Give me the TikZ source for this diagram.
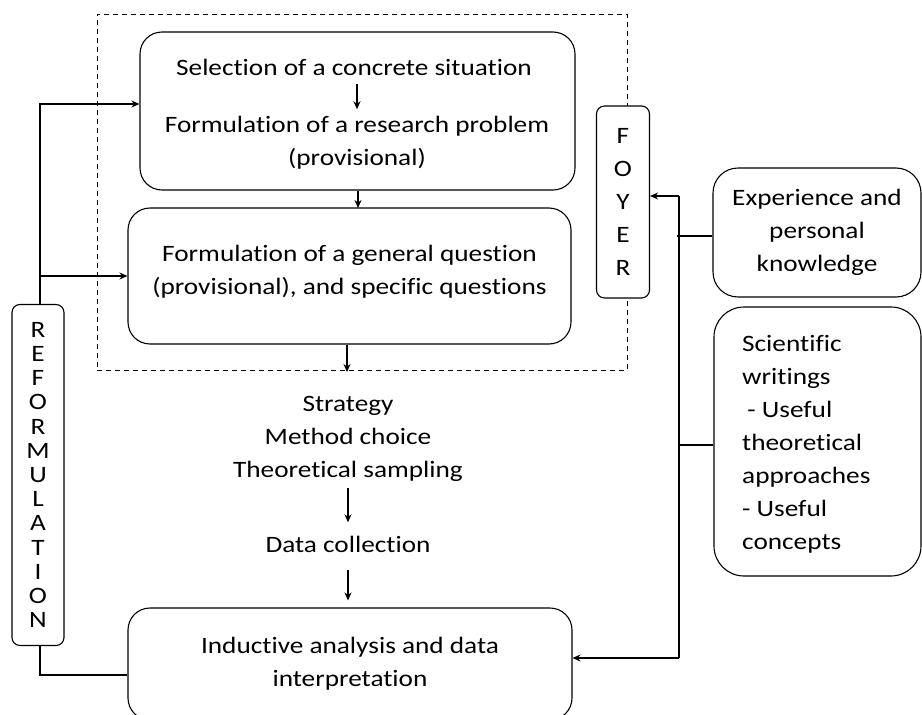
\documentclass[tikz,border=0pt]{standalone}
\usepackage{fontspec}
\setmainfont{Carlito}[FakeStretch=1.16, Ligatures=NoCommon]
\usetikzlibrary{arrows.meta}
\begin{document}
\begin{tikzpicture}[x=1pt,y=-1pt,
  txt/.style={inner sep=0pt, align=center, font=\fontsize{23.5}{33}\selectfont},
  line1/.style={txt, text height=16pt, text depth=5pt},
  rbox/.style={draw, line width=1.1pt, rounded corners=22pt, fill=white, inner sep=0pt},
  tallbox/.style={draw, line width=1.1pt, rounded corners=8pt, fill=white, inner sep=0pt, align=center},
  conn/.style={line width=1.1pt},
  arr/.style={conn, -{Stealth[length=8pt,width=7pt]}},
]
\useasboundingbox (0,0) rectangle (922,715);
\clip (0,0) rectangle (922,715);

% dashed frame
\node[draw, dashed, dash pattern=on 5pt off 4pt, line width=0.9pt, minimum width=530pt, minimum height=356pt, inner sep=0pt] (frame) at (362,192) {};

% top box
\node[rbox, minimum width=435pt, minimum height=158pt] (b1) at (357.5,111) {};
\node[line1] (sel) at (354,70) {Selection of a concrete situation};
\node[txt] (prob) at (357,143) {Formulation of a research problem\\(provisional)};
\draw[arr, shorten <=3pt, shorten >=7pt] (sel.south -| prob.north) -- (prob.north);

% second box
\node[rbox, minimum width=443pt, minimum height=136pt] (b2) at (349.5,276) {};
\node[txt] (q2) at (349.5,271.5) {Formulation of a general question\\(provisional), and specific questions};
\draw[arr] (b1.south -| 358,0) -- (358,208);

% FOYER
\node[tallbox, minimum width=53pt, minimum height=192pt, font=\fontsize{23.5}{33}\selectfont] (foyer) at (623,202) {F\\O\\Y\\E\\R};

% middle texts
\draw[arr] (b2.south -| 347,0) -- (347,372);
\node[txt] (strat) at (348,439) {Strategy\\Method choice\\Theoretical sampling};
\node[line1] (data) at (348,547) {Data collection};
\draw[arr, shorten <=6pt, shorten >=14pt] (strat.south) -- (data.north);

% bottom box
\node[rbox, minimum width=444pt, minimum height=112pt, align=center, font=\fontsize{23.5}{33}\selectfont] (b3) at (350,664) {Inductive analysis and data\\interpretation};
\draw[arr, shorten <=12pt, shorten >=7pt] (data.south) -- (data.south |- b3.north);

% REFORMULATION
\node[tallbox, minimum width=52pt, minimum height=341pt, font=\fontsize{23.5}{24.2}\selectfont] (ref) at (38,475) {R\\E\\F\\O\\R\\M\\U\\L\\A\\T\\I\\O\\N};

% right boxes
\node[rbox, rounded corners=25pt, minimum width=208pt, minimum height=129pt, align=center, font=\fontsize{23.5}{33}\selectfont] (exp) at (817,232.5) {Experience and\\personal\\knowledge};
\node[rbox, rounded corners=30pt, minimum width=207pt, minimum height=269pt] (sci) at (817.5,441.5) {};
\node[txt, align=left, anchor=west] (scitext) at (742,444) {Scientific\\writings\\\hspace*{0.22em}- Useful\\theoretical\\approaches\\- Useful\\concepts};

% right connectors
\coordinate (v1) at (679,196);
\coordinate (v2) at (679,658);
\draw[conn] (v1) -- (v2);
\draw[arr] (v1) -- (foyer.east |- v1);
\draw[arr] (v2) -- (b3.east |- v2);
\draw[conn] (exp.west |- 0,236) -- (677,236);
\draw[conn] (sci.west |- 0,445) -- (679,445);

% left connectors
\coordinate (l1) at (40,104);
\coordinate (l2) at (40,675);
\draw[arr] (ref.north -| l1) -- (l1) -- (l1 -| b1.west);
\draw[arr] (l1 |- b2.west) -- (b2.west);
\draw[conn] (ref.south -| l2) -- (l2) -- (l2 -| b3.west);
\end{tikzpicture}
\end{document}
